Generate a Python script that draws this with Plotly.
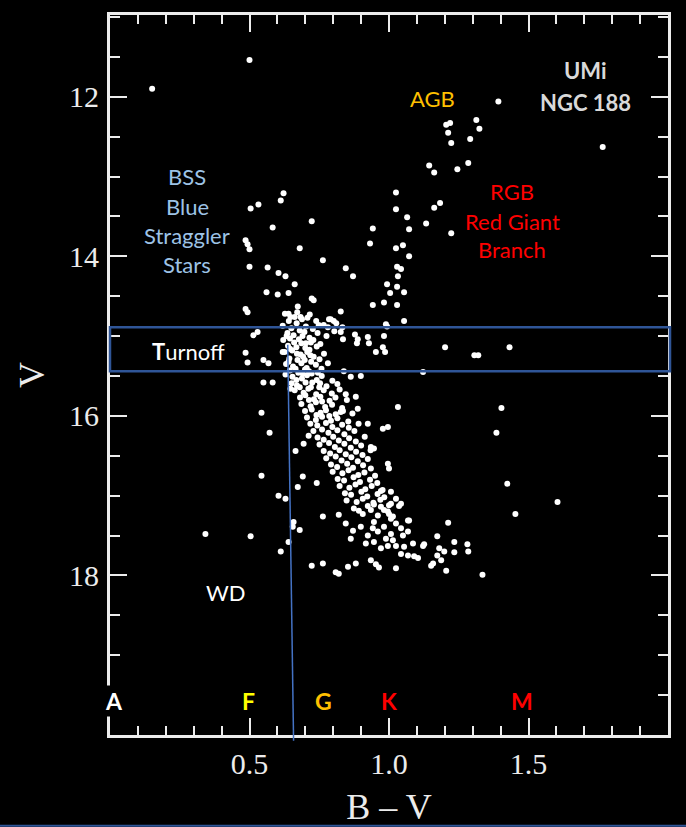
import plotly.graph_objects as go

# Colour-magnitude diagram of the open cluster NGC 188: (B-V, V) per star.

blue_stragglers = [
    (0.500, 11.54), (0.151, 11.90), (0.622, 13.21), (0.612, 13.30), (0.532, 13.35),
    (0.504, 13.40), (0.723, 13.56), (0.583, 13.64), (0.486, 13.80), (0.493, 13.85),
    (0.500, 13.91), (0.680, 13.90), (0.763, 14.05), (0.500, 14.13), (0.565, 14.14),
    (0.604, 14.21), (0.629, 14.25), (0.662, 14.35), (0.561, 14.45), (0.601, 14.48),
    (0.640, 14.46), (0.723, 14.53), (0.730, 14.55), (0.673, 14.63), (0.486, 14.66),
    (0.493, 14.70), (0.640, 14.72), (0.647, 14.76), (0.683, 14.76), (0.827, 14.69),
    (0.845, 14.15), (0.871, 14.25),
]

turnoff = [
    (0.627, 14.72), (0.662, 14.76), (0.671, 14.70), (0.708, 14.77), (0.716, 14.73),
    (0.641, 14.81), (0.669, 14.84), (0.688, 14.79), (0.739, 14.81), (0.748, 14.86),
    (0.785, 14.79), (0.619, 14.87), (0.650, 14.90), (0.702, 14.88), (0.727, 14.91),
    (0.766, 14.86), (0.811, 14.84), (0.833, 14.89), (0.680, 14.93),
    (0.636, 14.96), (0.658, 14.99), (0.697, 14.95), (0.715, 15.02), (0.744, 14.96),
    (0.776, 15.00), (0.804, 14.94),
    (0.621, 15.05), (0.645, 15.03), (0.677, 15.04), (0.702, 15.09), (0.729, 15.05),
    (0.754, 15.10),
    (0.638, 15.12), (0.668, 15.14), (0.686, 15.09), (0.715, 15.17), (0.741, 15.13),
    (0.626, 15.20), (0.653, 15.18), (0.683, 15.23), (0.707, 15.20), (0.730, 15.26),
    (0.767, 15.22), (0.643, 15.28), (0.672, 15.30), (0.692, 15.26), (0.721, 15.32),
    (0.751, 15.29), (0.631, 15.35), (0.656, 15.38), (0.686, 15.34), (0.705, 15.40),
    (0.738, 15.36), (0.781, 15.34), (0.645, 15.43), (0.675, 15.46), (0.699, 15.42),
    (0.723, 15.47), (0.758, 15.41), (0.629, 15.48),
    (0.633, 15.00), (0.690, 15.00), (0.660, 15.08), (0.720, 15.08), (0.645, 15.16),
    (0.700, 15.15), (0.670, 15.22), (0.718, 15.24), (0.640, 15.32), (0.698, 15.30),
    (0.665, 15.41), (0.713, 15.44), (0.745, 15.46), (0.690, 15.47),
]

main_sequence = [
    (0.654, 15.51), (0.688, 15.53), (0.706, 15.49), (0.741, 15.55), (0.759, 15.50), (0.797, 15.56),
    (0.651, 15.59), (0.670, 15.62), (0.701, 15.58), (0.720, 15.64), (0.753, 15.59), (0.776, 15.63),
    (0.815, 15.60),
    (0.662, 15.68), (0.694, 15.71), (0.711, 15.66), (0.739, 15.73), (0.766, 15.68), (0.795, 15.72),
    (0.823, 15.67),
    (0.681, 15.77), (0.700, 15.74), (0.731, 15.79), (0.754, 15.76), (0.787, 15.81), (0.808, 15.77),
    (0.849, 15.80),
    (0.686, 15.85), (0.719, 15.88), (0.738, 15.83), (0.771, 15.89), (0.796, 15.86), (0.832, 15.90),
    (0.699, 15.94), (0.723, 15.92), (0.755, 15.96), (0.774, 15.93), (0.809, 15.98), (0.835, 15.94),
    (0.869, 15.97),
    (0.706, 16.02), (0.738, 16.05), (0.760, 16.01), (0.792, 16.06), (0.815, 16.03), (0.854, 16.07),
    (0.718, 16.10), (0.743, 16.12), (0.774, 16.09), (0.797, 16.14), (0.832, 16.11), (0.856, 16.15),
    (0.891, 16.10),
    (0.729, 16.19), (0.760, 16.17), (0.783, 16.21), (0.815, 16.18), (0.840, 16.23), (0.876, 16.19),
    (0.744, 16.27), (0.766, 16.30), (0.800, 16.26), (0.820, 16.31), (0.857, 16.28), (0.881, 16.32),
    (0.913, 16.26),
    (0.751, 16.36), (0.785, 16.34), (0.806, 16.39), (0.840, 16.35), (0.863, 16.40), (0.900, 16.37),
    (0.766, 16.44), (0.789, 16.47), (0.823, 16.43), (0.845, 16.48), (0.882, 16.45), (0.905, 16.49),
    (0.934, 16.43),
    (0.775, 16.53), (0.809, 16.51), (0.830, 16.56), (0.865, 16.52), (0.888, 16.57), (0.924, 16.54),
    (0.792, 16.61), (0.814, 16.64), (0.850, 16.60), (0.871, 16.65), (0.907, 16.62), (0.935, 16.66),
    (0.798, 16.70), (0.833, 16.72), (0.855, 16.68), (0.890, 16.74), (0.912, 16.71), (0.950, 16.75),
    (0.816, 16.79), (0.839, 16.81), (0.873, 16.77), (0.896, 16.83), (0.932, 16.80), (0.958, 16.84),
    (0.823, 16.88), (0.858, 16.90), (0.880, 16.86), (0.915, 16.92), (0.938, 16.88), (0.977, 16.93),
    (0.842, 16.97), (0.864, 16.99), (0.901, 16.95), (0.922, 17.01), (0.959, 16.98), (0.983, 17.02),
    (0.848, 17.06), (0.884, 17.08), (0.906, 17.04), (0.944, 17.09), (0.969, 17.05), (1.007, 17.10),
    (0.668, 15.55), (0.725, 15.58), (0.680, 15.64), (0.750, 15.64), (0.713, 15.80),
    (0.760, 15.82), (0.740, 15.99), (0.786, 16.00),
]

lower_main_sequence = [
    (0.924, 17.13), (0.946, 17.11), (0.971, 17.14), (1.000, 17.12), (1.036, 17.13),
    (0.892, 17.19), (0.906, 17.23), (0.982, 17.18), (1.000, 17.23), (1.014, 17.26),
    (0.946, 17.33), (0.942, 17.41), (0.960, 17.45), (0.924, 17.50), (0.946, 17.58),
    (1.072, 17.31), (1.043, 17.41), (1.050, 17.50), (1.068, 17.45), (1.007, 17.48),
    (1.014, 17.56), (1.025, 17.63), (0.996, 17.63), (0.971, 17.66), (1.043, 17.73),
    (1.068, 17.75), (1.090, 17.76), (1.104, 17.78), (1.054, 17.64), (1.086, 17.60),
    (1.122, 17.63), (0.871, 17.44), (0.863, 17.54), (0.874, 17.16), (0.935, 17.18),
    (0.960, 17.25), (0.996, 17.20), (1.007, 17.29), (0.845, 17.35), (0.899, 17.39),
    (0.917, 17.60), (0.982, 17.39), (0.989, 17.54), (1.025, 17.35),
    (0.809, 17.96), (0.853, 17.89), (0.881, 17.85), (0.935, 17.81), (0.953, 17.86),
    (0.964, 17.90), (1.025, 17.91),
    (1.212, 17.34), (1.173, 17.51), (1.234, 17.58), (1.281, 17.61), (1.284, 17.70),
    (1.180, 17.66), (1.198, 17.70), (1.173, 17.75), (1.234, 17.71), (1.158, 17.85),
    (1.151, 17.88), (1.187, 17.81), (1.205, 17.94), (1.335, 17.99), (1.126, 17.61),
]

blue_side = [
    (0.514, 14.99), (0.529, 14.95), (0.486, 15.21), (0.493, 15.33), (0.550, 15.30),
    (0.568, 15.34), (0.619, 15.20), (0.550, 15.58), (0.583, 15.58), (0.543, 15.96),
    (0.572, 16.21), (0.543, 16.75), (0.604, 17.00), (0.629, 17.04), (0.504, 17.51),
    (0.342, 17.48), (0.612, 17.70), (0.640, 17.58), (0.658, 17.33), (0.655, 17.39),
    (0.680, 17.43), (0.691, 16.76), (0.673, 16.89), (0.741, 16.84), (0.763, 17.26),
    (0.723, 17.88), (0.763, 17.85), (0.820, 17.98), (0.820, 17.24), (0.665, 16.44),
    (0.694, 16.35), (0.712, 16.25), (0.647, 15.66),
]

subgiants = [
    (0.827, 14.95), (0.835, 15.04), (0.878, 14.98), (0.888, 15.04), (0.885, 15.09),
    (0.924, 15.01), (0.928, 15.09), (0.982, 15.00), (0.953, 15.20), (0.978, 15.14),
    (0.986, 15.20), (0.781, 14.89), (0.791, 14.79), (0.802, 14.81), (0.989, 14.85),
    (1.054, 14.81), (0.993, 14.88), (0.838, 15.44), (0.863, 15.51), (0.899, 15.50),
    (0.845, 15.73), (0.881, 15.76), (0.888, 15.91), (0.827, 15.95), (1.032, 15.89),
    (0.924, 16.10), (0.978, 16.16), (0.996, 16.14), (0.935, 16.39), (0.946, 16.41),
    (0.996, 16.60), (1.000, 16.66), (0.971, 16.94), (1.007, 16.95), (1.025, 17.04),
    (1.043, 17.10), (1.068, 17.31),
]

giants = [
    (1.392, 12.06), (1.205, 12.35), (1.219, 12.33), (1.212, 12.45), (1.223, 12.58),
    (1.313, 12.29), (1.324, 12.40), (1.291, 12.53), (1.144, 12.86), (1.162, 12.95),
    (1.245, 12.91), (1.284, 12.83), (1.025, 13.20), (1.025, 13.41), (1.183, 13.33),
    (1.162, 13.39), (1.065, 13.51), (1.133, 13.59), (0.942, 13.65), (1.072, 13.66),
    (1.223, 13.71), (0.932, 13.84), (1.050, 13.86), (1.025, 13.90), (1.072, 14.00),
    (1.029, 14.13), (1.043, 14.16), (1.032, 14.25), (0.993, 14.35), (1.029, 14.38),
    (1.054, 14.45), (1.004, 14.46), (0.942, 14.61), (0.982, 14.58), (1.029, 14.61),
]

field_stars = [
    (1.201, 15.14), (1.306, 15.24), (1.320, 15.24), (1.432, 15.14), (1.122, 15.45),
    (1.403, 15.90), (1.385, 16.21), (1.424, 16.85), (1.604, 17.08), (1.453, 17.23),
    (1.766, 12.63),
]

star_groups = [blue_stragglers, turnoff, main_sequence, lower_main_sequence,
               blue_side, subgiants, giants, field_stars]

# Spectral classes along the colour axis
spectral_classes = ["A", "F", "G", "K", "M"]
spectral_bv = [0.014, 0.496, 0.766, 1.0, 1.478]
spectral_colors = ["#ffffff", "#ffff00", "#ffc000", "#ff0000", "#ff0000"]

x_ticks = [0.5, 1.0, 1.5]
y_ticks = [12, 14, 16, 18]

# Turnoff band limits in V
turnoff_band = (14.89, 15.44)

FG = "#ececec"
SANS = "Lato, 'Open Sans', sans-serif"
SERIF = "'Liberation Serif', 'DejaVu Serif', serif"

fig = go.Figure()
for group in star_groups:
    fig.add_trace(go.Scatter(
        x=[p[0] for p in group], y=[p[1] for p in group],
        mode="markers",
        marker=dict(size=6, color="white", line=dict(width=0)),
        hoverinfo="x+y",
    ))

axis_common = dict(
    showline=True, linewidth=3, linecolor=FG, mirror="allticks",
    ticks="inside", ticklen=17, tickwidth=2, tickcolor=FG,
    showgrid=False, zeroline=False, automargin=False,
    tickfont=dict(family=SERIF, size=30, color=FG),
)

fig.update_xaxes(
    range=[0, 2.0], tickmode="array", tickvals=x_ticks,
    ticktext=[f"{t:.1f}" for t in x_ticks],
    minor=dict(tick0=0, dtick=0.1, ticks="inside", ticklen=9, tickwidth=2,
               tickcolor=FG, showgrid=False),
    ticklabelstandoff=0,
    title=dict(text="B – V", font=dict(family=SERIF, size=36, color=FG), standoff=18),
    **axis_common,
)
fig.update_yaxes(
    range=[20.0, 10.975], tickmode="array", tickvals=y_ticks,
    ticktext=[str(t) for t in y_ticks],
    minor=dict(tick0=0, dtick=0.5, ticks="inside", ticklen=10, tickwidth=2,
               tickcolor=FG, showgrid=False),
    ticklabelstandoff=2,
    title=dict(text="V", font=dict(family=SERIF, size=36, color=FG), standoff=14),
    **axis_common,
)

# Turnoff band
fig.add_shape(type="rect", xref="paper", yref="y", x0=0, x1=1.0036,
              y0=turnoff_band[0], y1=turnoff_band[1],
              line=dict(color="#2f5597", width=2.5), layer="above")
# Turnoff colour line
fig.add_shape(type="line", xref="x", yref="paper", x0=0.637, x1=0.658,
              y0=0.542, y1=-0.008, line=dict(color="#4472c4", width=1.5), layer="above")
# Lower border line
fig.add_shape(type="line", xref="paper", yref="paper", x0=-0.2, x1=1.04,
              y0=-0.1262, y1=-0.1262, line=dict(color="#2f5597", width=2))


def label(text, x, y, color, size=22, bold=False, bg=None):
    fig.add_annotation(
        x=x, y=y, xref="x", yref="y", text=f"<b>{text}</b>" if bold else text,
        showarrow=False, xanchor="center", yanchor="middle",
        font=dict(family=SANS, size=size, color=color),
        bgcolor=bg,
    )


for line_text, v in zip(["BSS", "Blue", "Straggler", "Stars"], [13.0, 13.375, 13.74, 14.1]):
    label(line_text, 0.277, v, "#9dc3e6")
label("<b>T</b>urnoff", 0.281, 15.19, "white")
label("AGB", 1.155, 12.025, "#ffc000")
label("UMi", 1.705, 11.675, "#d9d9d9", bold=True)
label("NGC 188", 1.705, 12.075, "#d9d9d9", bold=True)
for line_text, v in zip(["RGB", "Red Giant", "Branch"], [13.19, 13.56, 13.91]):
    label(line_text, 1.442, v, "#ff0000")
label("WD", 0.417, 18.21, "white")
for cls, bv, col in zip(spectral_classes, spectral_bv, spectral_colors):
    label(cls, bv, 19.575, col, size=23, bold=True, bg="black" if cls == "A" else None)

fig.update_layout(
    width=686, height=827,
    margin=dict(l=110, r=18, t=15, b=92, pad=0),
    paper_bgcolor="black", plot_bgcolor="black",
    showlegend=False,
)

fig.write_html("out.html")
